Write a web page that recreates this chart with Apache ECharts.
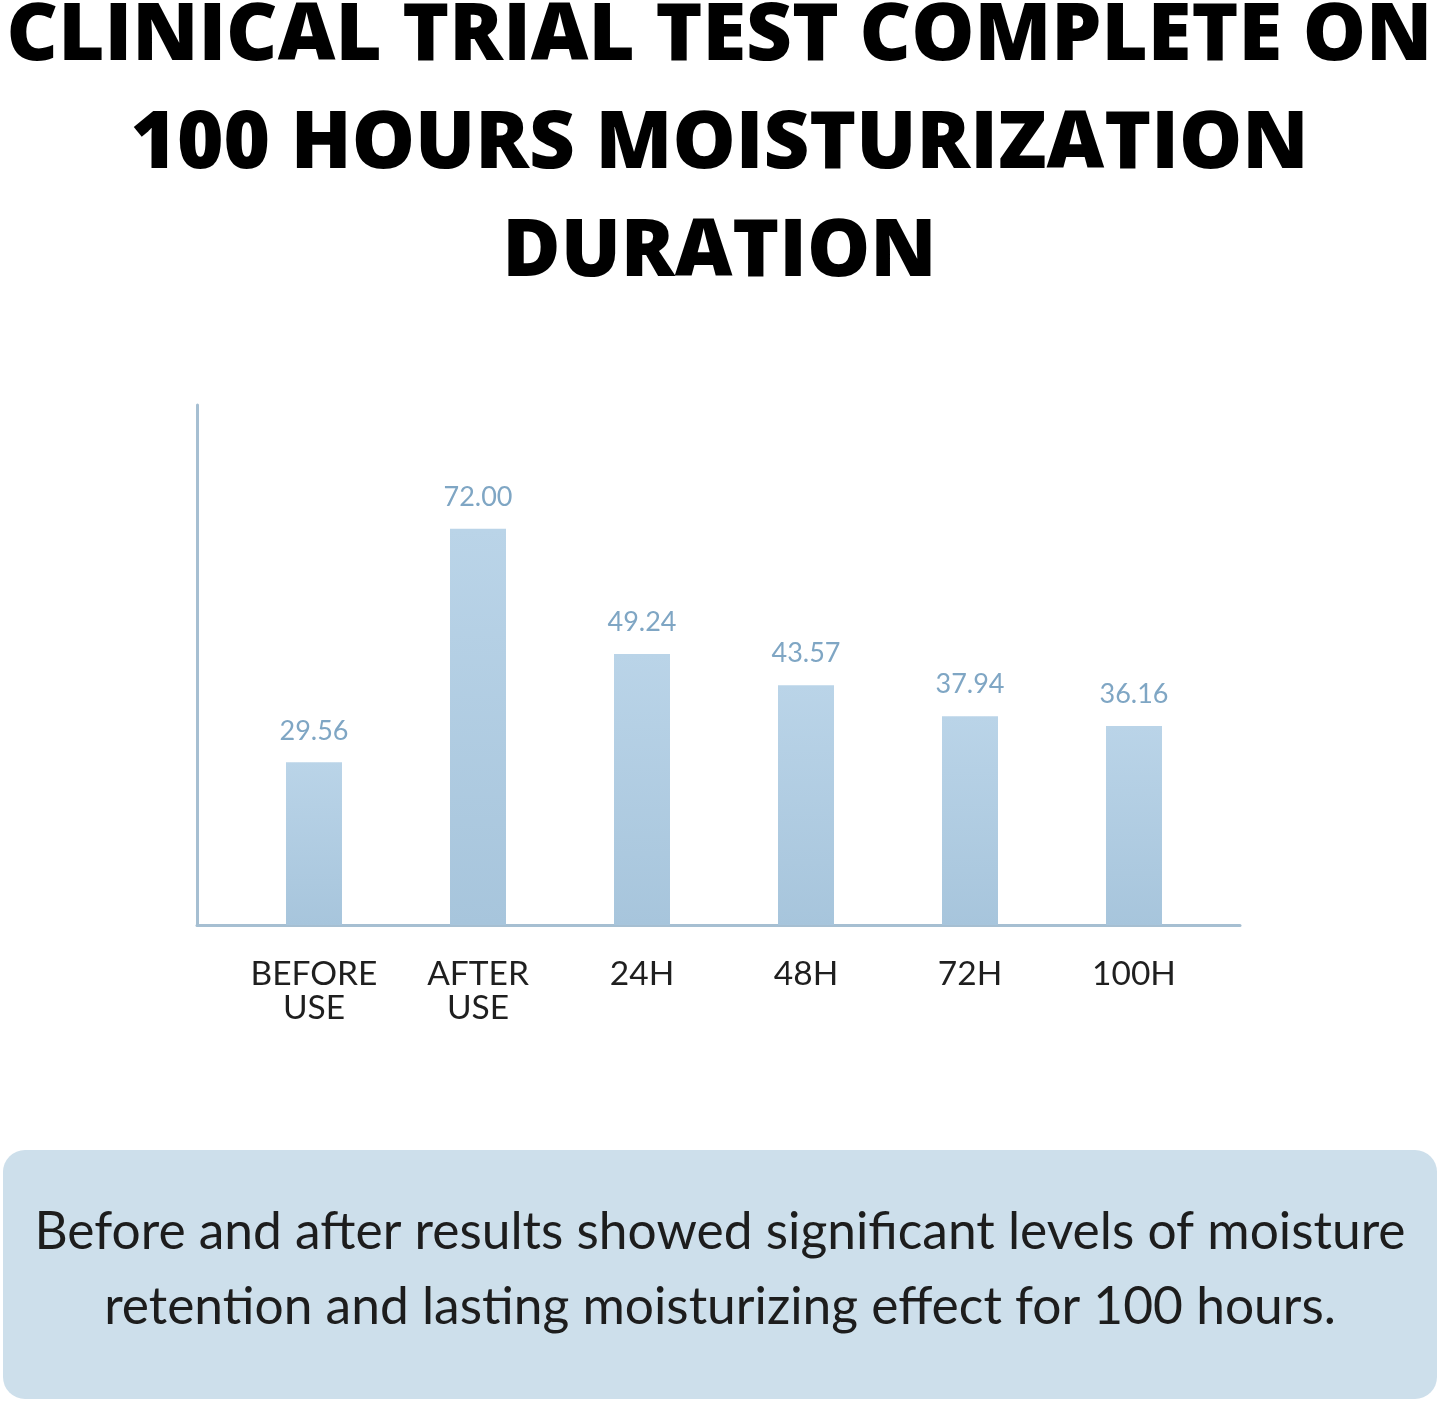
<!DOCTYPE html>
<html>
<head>
<meta charset="utf-8">
<script src="https://cdn.jsdelivr.net/npm/echarts@6/dist/echarts.min.js"></script>
<style>
html,body{margin:0;padding:0;background:#fff;}
#chart{width:1439px;height:1402px;}
</style>
</head>
<body>
<div id="chart"></div>
<script>
const titleLines = ['CLINICAL TRIAL TEST COMPLETE ON', '100 HOURS MOISTURIZATION', 'DURATION'];
const categories = ['BEFORE\nUSE', 'AFTER\nUSE', '24H', '48H', '72H', '100H'];
const values = [29.56, 72.00, 49.24, 43.57, 37.94, 36.16];
const noteLines = [
  'Before and after results showed significant levels of moisture',
  'retention and lasting moisturizing effect for 100 hours.'
];

const chart = echarts.init(document.getElementById('chart'), null, {renderer: 'canvas'});
const axisColor = '#a6bfd2';

chart.setOption({
  backgroundColor: '#ffffff',
  animation: false,
  title: {
    text: titleLines.join('\n'),
    left: 'center',
    top: -22,
    textStyle: {
      fontFamily: 'Open Sans',
      fontWeight: 800,
      fontSize: 79.5,
      lineHeight: 108,
      color: '#000000'
    }
  },
  grid: [
    {left: 232, width: 984, top: 405, height: 520, containLabel: false},
    {left: 197, width: 1043, top: 405, height: 520, containLabel: false}
  ],
  xAxis: [
    {
      type: 'category', gridIndex: 0, data: categories,
      axisLine: {show: false}, axisTick: {show: false},
      axisLabel: {
        interval: 0, hideOverlap: false,
        margin: 32, color: '#1f1f1f', fontFamily: 'Lato', fontSize: 33.5, lineHeight: 34
      }
    },
    {
      type: 'value', gridIndex: 1, min: 0, max: 1,
      axisLine: {show: true, onZero: false, lineStyle: {color: axisColor, width: 3}},
      axisTick: {show: false}, axisLabel: {show: false}, splitLine: {show: false}
    }
  ],
  yAxis: [
    {
      type: 'value', gridIndex: 0, min: 0, max: 94.5,
      axisLine: {show: false}, axisTick: {show: false}, axisLabel: {show: false}, splitLine: {show: false}
    },
    {
      type: 'value', gridIndex: 1, min: 0, max: 1,
      axisLine: {show: true, onZero: false, lineStyle: {color: axisColor, width: 3}},
      axisTick: {show: false}, axisLabel: {show: false}, splitLine: {show: false}
    }
  ],
  series: [{
    type: 'bar',
    xAxisIndex: 0, yAxisIndex: 0,
    data: values,
    barWidth: 56,
    z: 1,
    itemStyle: {
      color: new echarts.graphic.LinearGradient(0, 0, 0, 1, [
        {offset: 0, color: '#bad4e8'},
        {offset: 1, color: '#a7c5dc'}
      ])
    },
    label: {
      show: true, position: 'top', distance: 18,
      color: '#7fa6c4', fontFamily: 'Lato', fontSize: 27,
      formatter: p => p.value.toFixed(2)
    }
  }],
  graphic: [
    {
      type: 'rect', left: 3, top: 1150, z: 0,
      shape: {width: 1434, height: 249, r: 22},
      style: {fill: '#cddfeb'}
    },
    {
      type: 'text', z: 1,
      style: {
        x: 720, y: 1232,
        text: noteLines[0],
        fontFamily: 'Lato', fontSize: 51.5,
        fill: '#1d1d1d', align: 'center', verticalAlign: 'middle'
      }
    },
    {
      type: 'text', z: 1,
      style: {
        x: 720, y: 1307,
        text: noteLines[1],
        fontFamily: 'Lato', fontSize: 51.5,
        fill: '#1d1d1d', align: 'center', verticalAlign: 'middle'
      }
    }
  ]
});
</script>
</body>
</html>
